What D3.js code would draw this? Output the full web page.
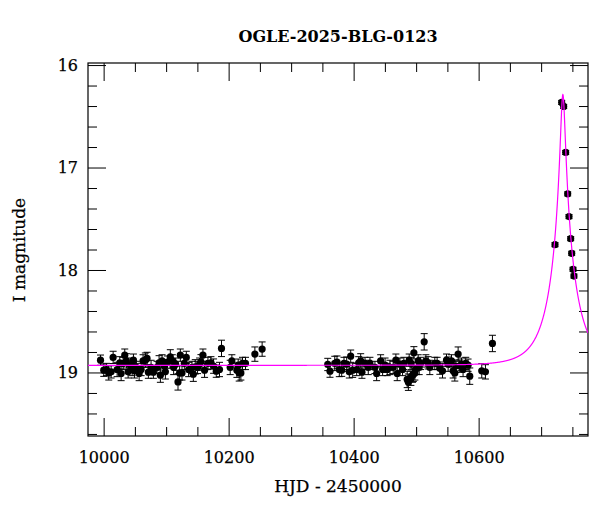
<!DOCTYPE html>
<html><head><meta charset="utf-8">
<script src="https://cdn.jsdelivr.net/npm/d3@7"></script>
<style>body{margin:0;background:#fff}svg{display:block}</style>
</head><body><svg id="c" width="600" height="512"></svg>
<script>
// ---- data (HJD-2450000, I mag, error) ----
const hjd = [
9995.0,10000.2,10004.5,10008.2,10012,10015.2,10021.6,10025.8,10028,10031.2,10033.8,10036.5,10039.2,10042.9,10045.6,10047.7,10049.3,10052.4,10056.8,10060,10063.1,10066.8,10069.5,10071.6,10075.9,10079.6,10085.5,10088.7,10090.8,10093.5,10097.2,10098.8,10102,10106.7,10109.9,10112,10115.2,10119,10121.6,10122.7,10125.4,10129.1,10132.3,10136,10141.4,10143.5,10146.6,10150.3,10153.5,10155.7,10158.9,10161.5,10166.9,10171.7,10175.9,10180.2,10185.4,10188.6,10202.5,10205.2,10213.2,10215.3,10216.9,10219.6,10222.2,10227,10242,10253.6,
10358.6,10362.2,10369.8,10373.4,10377.1,10380.9,10384.6,10388.9,10393.1,10395.3,10398.5,10404.9,10408.1,10411.3,10413.3,10418.2,10423.4,10426.1,10434.1,10436.8,10443.2,10446.4,10450.3,10453.7,10458.1,10463.3,10467.6,10469.7,10474,10478.3,10480.4,10485.7,10487.6,10488.9,10491.6,10492.1,10494.3,10495.6,10496.4,10498,10500.7,10503.3,10504.9,10507.1,10512.9,10515.6,10519.2,10521.9,10529.9,10533.6,10537.9,10542.2,10548.6,10551.2,10556.6,10559.2,10561.9,10563.5,10567.2,10569.9,10572.6,10575.1,10579.4,10583.1,10585.8,10605,10610.9,10622.1,
10722.2,10732.9,10736.1,10739.3,10742.5,10744.6,10747.3,10748.9,10751,10752.5
];
const mag = [
18.880,18.978,18.971,19.004,18.994,18.853,18.971,18.906,19.010,18.912,18.831,18.887,18.994,18.929,18.971,18.880,18.984,18.951,19.010,18.971,18.887,18.880,18.863,18.997,18.951,18.997,18.951,18.906,19.026,18.887,18.938,18.994,18.899,18.848,18.887,18.951,18.919,19.092,19.004,18.831,19.004,18.912,18.853,18.971,18.951,19.017,18.945,18.951,18.919,18.896,18.831,18.978,18.912,18.906,18.938,18.987,18.971,18.765,18.951,18.887,18.978,18.929,19.004,19.004,18.912,18.912,18.821,18.772,
18.922,18.987,18.912,18.899,18.971,18.978,18.912,18.919,18.994,18.841,18.978,18.971,18.906,18.887,18.997,18.912,18.951,18.912,18.951,19.010,18.887,18.971,18.929,18.971,18.951,18.951,18.880,19.010,18.919,18.971,18.912,19.068,19.095,18.880,19.056,18.912,19.026,19.017,18.808,19.004,18.961,18.887,18.951,18.912,18.701,18.887,18.906,18.951,18.912,18.912,18.958,18.984,18.880,18.919,18.887,18.984,19.004,18.938,18.821,18.938,18.919,18.971,18.912,18.929,19.036,18.984,18.994,18.717,
17.753,16.365,16.404,16.853,17.257,17.479,17.694,17.837,17.993,18.059
];
const err = [
0.05,0.06,0.06,0.07,0.06,0.06,0.07,0.06,0.07,0.06,0.06,0.07,0.06,0.07,0.06,0.06,0.07,0.06,0.07,0.06,0.06,0.07,0.06,0.06,0.07,0.06,0.06,0.07,0.07,0.06,0.06,0.07,0.06,0.07,0.06,0.07,0.06,0.08,0.07,0.06,0.07,0.06,0.06,0.07,0.06,0.07,0.07,0.06,0.06,0.07,0.06,0.07,0.06,0.06,0.07,0.06,0.07,0.08,0.07,0.06,0.07,0.06,0.08,0.07,0.06,0.06,0.07,0.07,
0.06,0.06,0.07,0.06,0.07,0.06,0.06,0.07,0.06,0.06,0.07,0.06,0.06,0.07,0.06,0.06,0.07,0.06,0.06,0.07,0.06,0.06,0.07,0.06,0.07,0.06,0.06,0.07,0.06,0.06,0.06,0.08,0.08,0.06,0.07,0.06,0.07,0.07,0.06,0.07,0.06,0.06,0.07,0.06,0.08,0.06,0.06,0.07,0.06,0.06,0.06,0.07,0.06,0.07,0.06,0.07,0.08,0.06,0.07,0.06,0.06,0.07,0.06,0.06,0.08,0.07,0.07,0.08,
0.02,0.02,0.02,0.02,0.02,0.02,0.02,0.02,0.02,0.02
];
// model (point-lens fit) parameters
const t0 = 10734.8, tE = 40, u0 = 0.088, I0 = 18.93;
const title = "OGLE-2025-BLG-0123";
const xTicks = [10000, 10200, 10400, 10600];
const yTicks = [16, 17, 18, 19];

// ---- drawing ----
const svg = d3.select("#c");
const L = 88, R = 588, T = 63, B = 436;
const x = d3.scaleLinear().domain([9975, 10775]).range([L, R]);
const y = d3.scaleLinear().domain([15.98, 19.62]).range([T, B]);
const FONT = "DejaVu Serif";

const xMinor = d3.range(10000, 10775, 50).filter(v => !xTicks.includes(v));
const yMinor = d3.range(16, 19.7, 0.2).map(v => +v.toFixed(1)).filter(v => !yTicks.includes(v));

function styleAxis(g) {
  g.select(".domain").remove();
  g.selectAll(".tick line").attr("stroke", "#000");
  g.attr("font-family", FONT).attr("font-size", 16).selectAll("text")
    .attr("fill", "#000").attr("stroke", "#000").attr("stroke-width", 0.25);
}
// major + minor ticks, all four sides, inside
svg.append("g").attr("transform", `translate(0,${B})`)
  .call(d3.axisBottom(x).tickValues(xTicks).tickFormat(d3.format("d")).tickSize(-18).tickPadding(15.5)).call(styleAxis);
svg.append("g").attr("transform", `translate(0,${B})`)
  .call(d3.axisBottom(x).tickValues(xMinor).tickFormat("").tickSize(-9)).call(styleAxis);
svg.append("g").attr("transform", `translate(0,${T})`)
  .call(d3.axisTop(x).tickValues(xTicks).tickFormat("").tickSize(-18)).call(styleAxis);
svg.append("g").attr("transform", `translate(0,${T})`)
  .call(d3.axisTop(x).tickValues(xMinor).tickFormat("").tickSize(-9)).call(styleAxis);
svg.append("g").attr("transform", `translate(${L},0)`)
  .call(d3.axisLeft(y).tickValues(yTicks).tickFormat(d3.format("d")).tickSize(-18).tickPadding(10)).call(styleAxis);
svg.append("g").attr("transform", `translate(${L},0)`)
  .call(d3.axisLeft(y).tickValues(yMinor).tickFormat("").tickSize(-9)).call(styleAxis);
svg.append("g").attr("transform", `translate(${R},0)`)
  .call(d3.axisRight(y).tickValues(yTicks).tickFormat("").tickSize(-18)).call(styleAxis);
svg.append("g").attr("transform", `translate(${R},0)`)
  .call(d3.axisRight(y).tickValues(yMinor).tickFormat("").tickSize(-9)).call(styleAxis);

// frame
svg.append("rect").attr("x", L).attr("y", T).attr("width", R - L).attr("height", B - T)
  .attr("fill", "none").attr("stroke", "#000").attr("stroke-width", 1.2);

svg.append("clipPath").attr("id", "clip").append("rect")
  .attr("x", L).attr("y", T).attr("width", R - L).attr("height", B - T);

// data with error bars
const data = hjd.map((t, i) => ({t, m: mag[i], e: err[i]}));
const pts = svg.append("g").attr("clip-path", "url(#clip)");
const eb = pts.selectAll("g.eb").data(data).join("g").attr("class", "eb")
  .attr("stroke", "#000").attr("stroke-width", 1);
eb.append("line").attr("x1", d => x(d.t)).attr("x2", d => x(d.t))
  .attr("y1", d => y(d.m - d.e)).attr("y2", d => y(d.m + d.e));
eb.append("line").attr("x1", d => x(d.t) - 3.5).attr("x2", d => x(d.t) + 3.5)
  .attr("y1", d => y(d.m - d.e)).attr("y2", d => y(d.m - d.e));
eb.append("line").attr("x1", d => x(d.t) - 3.5).attr("x2", d => x(d.t) + 3.5)
  .attr("y1", d => y(d.m + d.e)).attr("y2", d => y(d.m + d.e));
pts.selectAll("circle").data(data).join("circle")
  .attr("cx", d => x(d.t)).attr("cy", d => y(d.m)).attr("r", 3.6).attr("fill", "#000");

// model curve
function modelMag(t) {
  const u = Math.sqrt(u0 * u0 + ((t - t0) / tE) ** 2);
  const A = (u * u + 2) / (u * Math.sqrt(u * u + 4));
  return I0 - 2.5 * Math.log10(A);
}
const ts = d3.range(9975, 10775.01, 0.2);
svg.append("path").attr("clip-path", "url(#clip)")
  .datum(ts).attr("fill", "none").attr("stroke", "#ff00ff").attr("stroke-width", 1.2)
  .attr("d", d3.line().x(t => x(t)).y(t => y(modelMag(t))));

// texts
svg.append("text").attr("x", (L + R) / 2).attr("y", 42).attr("text-anchor", "middle")
  .attr("font-family", FONT).attr("font-size", 16).attr("font-weight", "bold").text(title);
svg.append("text").attr("x", (L + R) / 2).attr("y", 492).attr("text-anchor", "middle")
  .attr("font-family", FONT).attr("font-size", 17).attr("stroke", "#000").attr("stroke-width", 0.25).text("HJD - 2450000");
svg.append("text").attr("transform", `translate(25,250) rotate(-90)`).attr("text-anchor", "middle")
  .attr("font-family", FONT).attr("font-size", 17).attr("stroke", "#000").attr("stroke-width", 0.25).text("I magnitude");
</script></body></html>
